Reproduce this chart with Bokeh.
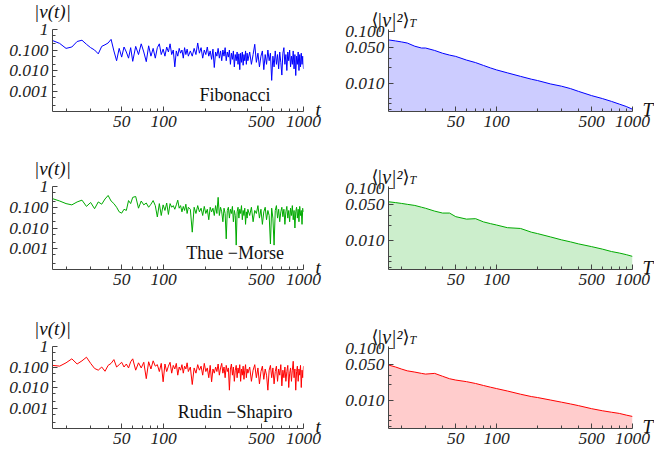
from bokeh.plotting import figure
from bokeh.layouts import row, column
from bokeh.models import Range1d, FixedTicker, CustomJSTickFormatter, Label
from bokeh.embed import file_html
from bokeh.resources import INLINE

# ---------------- data ----------------
t_vals = [16, 18, 20, 22, 24, 26, 28, 30, 32, 34, 36, 38, 40, 42, 44, 46, 48, 50, 52, 54, 56, 58, 60,
          63, 66, 69, 72, 75, 78, 81, 84, 87, 90, 93, 96, 99, 102, 105, 108, 111, 114, 117, 120, 123, 126,
          129, 132, 135, 138, 141, 144, 147, 150,
          155, 160, 165, 170, 175, 180, 185, 190, 195, 200, 205, 210, 215, 220, 225, 230, 235, 240, 245, 250,
          255, 260, 265, 270, 275, 280, 285, 290, 295, 300, 305, 310, 315, 320, 325, 330, 335, 340, 345, 350,
          355, 360, 365, 370, 375, 380, 385, 390, 395, 400,
          412, 424, 436, 448, 460, 472, 484, 496, 508, 520, 532, 544, 556, 568, 580, 592, 604, 616, 628, 640,
          652, 664, 676, 688, 700, 712, 724, 736, 748, 760, 772, 784, 796, 808, 820, 832, 844, 856, 868, 880,
          892, 904, 916, 928, 940, 952, 964, 976, 988, 1000]

fib_nu = [0.29, 0.21, 0.12, 0.14, 0.26, 0.30, 0.19, 0.13, 0.10, 0.065, 0.15, 0.18, 0.22, 0.33, 0.09, 0.03,
          0.12, 0.045, 0.14, 0.08, 0.04, 0.13, 0.028,
          0.15, 0.06, 0.20, 0.08, 0.027, 0.16, 0.05, 0.12, 0.04, 0.13, 0.20, 0.06, 0.11, 0.05, 0.14, 0.08,
          0.20, 0.06, 0.10, 0.015, 0.09, 0.05, 0.12, 0.07, 0.10, 0.04, 0.13, 0.06, 0.11, 0.05,
          0.09, 0.05, 0.12, 0.06, 0.22, 0.07, 0.13, 0.04, 0.10, 0.06, 0.14, 0.05, 0.09, 0.035, 0.11, 0.014,
          0.08, 0.05, 0.12, 0.04, 0.09, 0.03, 0.10, 0.05, 0.13, 0.03, 0.08, 0.045, 0.10, 0.02,
          0.07, 0.035, 0.09, 0.015, 0.06, 0.03, 0.08, 0.02, 0.065, 0.011, 0.07, 0.025, 0.08, 0.018, 0.06,
          0.03, 0.09, 0.02, 0.07, 0.03,
          0.08, 0.02, 0.06, 0.19, 0.025, 0.07, 0.015, 0.05, 0.09, 0.011, 0.06, 0.02, 0.10, 0.03, 0.07,
          0.0033, 0.05, 0.015, 0.09, 0.02, 0.06, 0.012, 0.08, 0.025, 0.006, 0.07, 0.13, 0.02, 0.06, 0.01,
          0.08, 0.03, 0.10, 0.015, 0.05, 0.02, 0.09, 0.012, 0.06, 0.0057, 0.05, 0.02, 0.08, 0.01, 0.06,
          0.015, 0.07, 0.02, 0.05, 0.012]

tm_nu = [0.26, 0.20, 0.15, 0.13, 0.18, 0.22, 0.11, 0.17, 0.085, 0.18, 0.14, 0.25, 0.37, 0.20, 0.15, 0.10,
         0.06, 0.052, 0.08, 0.07, 0.21, 0.15, 0.30,
         0.33, 0.09, 0.20, 0.13, 0.16, 0.10, 0.14, 0.21, 0.12, 0.034, 0.15, 0.04, 0.13, 0.07, 0.16, 0.045,
         0.15, 0.10, 0.12, 0.08, 0.13, 0.22, 0.09, 0.12, 0.06, 0.11, 0.07, 0.14, 0.05, 0.10,
         0.08, 0.0063, 0.10, 0.05, 0.12, 0.06, 0.09, 0.04, 0.11, 0.05, 0.08, 0.025, 0.10, 0.06, 0.09, 0.04,
         0.12, 0.05, 0.30, 0.04, 0.10, 0.06, 0.02, 0.09, 0.05, 0.003, 0.07, 0.10, 0.03, 0.08,
         0.05, 0.11, 0.02, 0.07, 0.04, 0.0015, 0.06, 0.10, 0.03, 0.08, 0.05, 0.12, 0.025, 0.07, 0.04,
         0.09, 0.015, 0.06, 0.03, 0.08,
         0.04, 0.10, 0.02, 0.07, 0.05, 0.12, 0.03, 0.08, 0.015, 0.06, 0.10, 0.025, 0.07, 0.04, 0.0017,
         0.09, 0.03, 0.0015, 0.07, 0.12, 0.03, 0.08, 0.02, 0.06, 0.10, 0.035, 0.08, 0.015, 0.06, 0.11,
         0.03, 0.07, 0.02, 0.09, 0.04, 0.12, 0.025, 0.07, 0.01, 0.06, 0.10, 0.03, 0.08, 0.02, 0.11,
         0.04, 0.07, 0.015, 0.09, 0.06]

rs_nu = [0.12, 0.11, 0.16, 0.25, 0.14, 0.20, 0.30, 0.15, 0.085, 0.07, 0.10, 0.062, 0.12, 0.15, 0.23, 0.10,
         0.13, 0.17, 0.10, 0.14, 0.09, 0.18, 0.25,
         0.07, 0.16, 0.09, 0.17, 0.027, 0.18, 0.08, 0.20, 0.11, 0.13, 0.06, 0.15, 0.019, 0.14, 0.06, 0.11,
         0.17, 0.05, 0.12, 0.08, 0.15, 0.04, 0.10, 0.07, 0.13, 0.05, 0.11, 0.08, 0.16, 0.06,
         0.10, 0.014, 0.09, 0.05, 0.13, 0.07, 0.11, 0.04, 0.15, 0.06, 0.09, 0.03, 0.12, 0.019, 0.08, 0.05,
         0.10, 0.06, 0.14, 0.04, 0.09, 0.15, 0.05, 0.10, 0.03, 0.12, 0.06, 0.09, 0.0074, 0.08,
         0.14, 0.04, 0.10, 0.02, 0.07, 0.12, 0.03, 0.09, 0.05, 0.13, 0.02, 0.08, 0.04, 0.11, 0.025,
         0.07, 0.13, 0.03, 0.08, 0.05,
         0.10, 0.02, 0.07, 0.13, 0.03, 0.09, 0.015, 0.06, 0.11, 0.025, 0.08, 0.04, 0.0074, 0.07, 0.12,
         0.03, 0.09, 0.015, 0.06, 0.11, 0.02, 0.08, 0.04, 0.13, 0.012, 0.07, 0.03, 0.10, 0.02, 0.06,
         0.12, 0.01, 0.05, 0.09, 0.02, 0.07, 0.19, 0.03, 0.08, 0.0074, 0.06, 0.11, 0.02, 0.08, 0.04,
         0.12, 0.01, 0.07, 0.03, 0.11]

T_vals = [16, 18, 20, 22, 25, 28, 30, 35, 40, 45, 50, 60, 70, 80, 90, 100, 120, 150, 180, 200,
          250, 300, 350, 400, 500, 600, 700, 800, 900, 1000]

fib_avg = [0.069, 0.066, 0.063, 0.060, 0.052, 0.048, 0.048, 0.043, 0.038, 0.035, 0.033, 0.028, 0.025,
           0.022, 0.0197, 0.018, 0.0158, 0.0135, 0.0119, 0.0112, 0.0096, 0.0087, 0.0078, 0.0069,
           0.0057, 0.0050, 0.0044, 0.0039, 0.0035, 0.0031]
tm_avg = [0.056, 0.054, 0.052, 0.050, 0.0476, 0.044, 0.042, 0.037, 0.034, 0.034, 0.029, 0.026, 0.0265,
          0.023, 0.0213, 0.0200, 0.0178, 0.0172, 0.0146, 0.0137, 0.0118, 0.0104, 0.0095, 0.0087,
          0.0077, 0.0069, 0.0062, 0.0058, 0.0054, 0.0050]
rs_avg = [0.048, 0.044, 0.040, 0.037, 0.035, 0.033, 0.032, 0.033, 0.029, 0.026, 0.0245, 0.0228, 0.021,
          0.0192, 0.0178, 0.0167, 0.0150, 0.0130, 0.0117, 0.0112, 0.0100, 0.0091, 0.0084, 0.0078,
          0.0068, 0.0062, 0.0058, 0.0055, 0.0051, 0.0048]

names = ["Fibonacci", "Thue \u2212Morse", "Rudin \u2212Shapiro"]
nu_series = [fib_nu, tm_nu, rs_nu]
avg_series = [fib_avg, tm_avg, rs_avg]
line_colors = ["#0000ff", "#00aa00", "#ff0000"]
fill_colors = ["#ccccff", "#cceecc", "#ffcccc"]

x_major = [50, 100, 500, 1000]
x_minor = [20, 30, 40, 60, 70, 80, 90, 200, 300, 400, 600, 700, 800, 900]
yl_major = [0.001, 0.01, 0.1, 1]
yl_minor = [0.0002, 0.0005, 0.002, 0.005, 0.02, 0.05, 0.2, 0.5]
yr_major = [0.01, 0.05, 0.1]
yr_minor = [0.003, 0.004, 0.005, 0.02, 0.03]

SERIF = "Liberation Serif"
X_LO, X_HI = 16, 1000
YL_LO, YL_HI = 1e-4, 1.0
YR_LO, YR_HI = 0.0028, 0.11

# rows: (height, top border, bottom border)
row_specs = [(157, 29, 46), (159, 29, 47), (138, 30, 26)]
LEFT_W, RIGHT_W = 322, 332


def style_axes(p, ymajor, yminor):
    for ax in (p.xaxis[0], p.yaxis[0]):
        ax.axis_line_color = "#444444"
        ax.major_tick_line_color = "#444444"
        ax.minor_tick_line_color = "#444444"
        ax.major_tick_in = 5
        ax.major_tick_out = 0
        ax.minor_tick_in = 3
        ax.minor_tick_out = 0
        ax.major_label_text_font = SERIF
        ax.major_label_text_font_style = "italic"
        ax.major_label_text_font_size = "17.5px"
        ax.major_label_text_color = "#222222"
        ax.major_label_standoff = 4
    p.xaxis[0].ticker = FixedTicker(ticks=x_major, minor_ticks=x_minor)
    p.xaxis[0].formatter = CustomJSTickFormatter(code="return tick.toFixed(0);")
    p.yaxis[0].ticker = FixedTicker(ticks=ymajor, minor_ticks=yminor)
    p.yaxis[0].formatter = CustomJSTickFormatter(
        code="return tick >= 0.5 ? '1' : tick.toFixed(3);")
    p.xgrid.visible = False
    p.ygrid.visible = False
    p.outline_line_color = None


def side_label(p, side, **kw):
    base = dict(text_font=SERIF, text_color="#111111")
    base.update(kw)
    p.add_layout(Label(**base), side)


rows = []
for i in range(3):
    h, bt, bb = row_specs[i]
    # left panel: |nu(t)|
    pl = figure(width=LEFT_W, height=h, x_axis_type="log", y_axis_type="log",
                x_range=Range1d(X_LO, X_HI), y_range=Range1d(YL_LO, YL_HI),
                output_backend="svg", toolbar_location=None,
                min_border_left=52, min_border_right=LEFT_W - 52 - 251,
                min_border_top=bt, min_border_bottom=bb)
    style_axes(pl, yl_major, yl_minor)
    pl.line(t_vals, nu_series[i], line_color=line_colors[i], line_width=1)
    pl.add_layout(Label(x=324, y=6.5e-4, text=names[i], text_align="center",
                        text_baseline="alphabetic", text_font=SERIF,
                        text_font_size="18px", text_color="#111111"))
    side_label(pl, "above", x=X_LO, y=YL_HI, text="|\u03bd(t)|", text_align="center",
               text_baseline="bottom", y_offset=8, text_font_style="italic",
               text_font_size="19px")
    side_label(pl, "right", x=X_HI, y=YL_LO, text="t", text_align="left",
               text_baseline="middle", x_offset=12, y_offset=2,
               text_font_style="italic", text_font_size="19px")

    # right panel: <|nu|^2>_T
    pr = figure(width=RIGHT_W, height=h, x_axis_type="log", y_axis_type="log",
                x_range=Range1d(X_LO, X_HI), y_range=Range1d(YR_LO, YR_HI),
                output_backend="svg", toolbar_location=None,
                min_border_left=388 - LEFT_W, min_border_right=22,
                min_border_top=bt, min_border_bottom=bb)
    style_axes(pr, yr_major, yr_minor)
    pr.varea(x=T_vals, y1=[YR_LO] * len(T_vals), y2=avg_series[i],
             fill_color=fill_colors[i], fill_alpha=1.0)
    pr.line(T_vals, avg_series[i], line_color=line_colors[i], line_width=1)
    side_label(pr, "above", x=X_LO, y=YR_HI, text="|\u03bd|\u00b2", text_align="right",
               text_baseline="alphabetic", x_offset=14, y_offset=10,
               text_font_style="italic", text_font_size="20px")
    side_label(pr, "left", x=X_LO, y=YR_HI, text="\u27e8", text_align="right",
               text_baseline="alphabetic", x_offset=-10, y_offset=10,
               text_font="DejaVu Serif", text_font_size="18px")
    side_label(pr, "right", x=X_LO, y=YR_HI, text="\u27e9", text_align="left",
               text_baseline="alphabetic", x_offset=14, y_offset=10,
               text_font="DejaVu Serif", text_font_size="18px")
    side_label(pr, "left", x=X_LO, y=YR_HI, text="T", text_align="left",
               text_baseline="alphabetic", x_offset=21, y_offset=7,
               text_font_style="italic", text_font_size="12px")
    side_label(pr, "right", x=X_HI, y=YR_LO, text="T", text_align="left",
               text_baseline="middle", x_offset=10, y_offset=2,
               text_font_style="italic", text_font_size="19px")
    rows.append(row(pl, pr))

layout = column(*rows)
open("out.html", "w").write(file_html(layout, INLINE))
